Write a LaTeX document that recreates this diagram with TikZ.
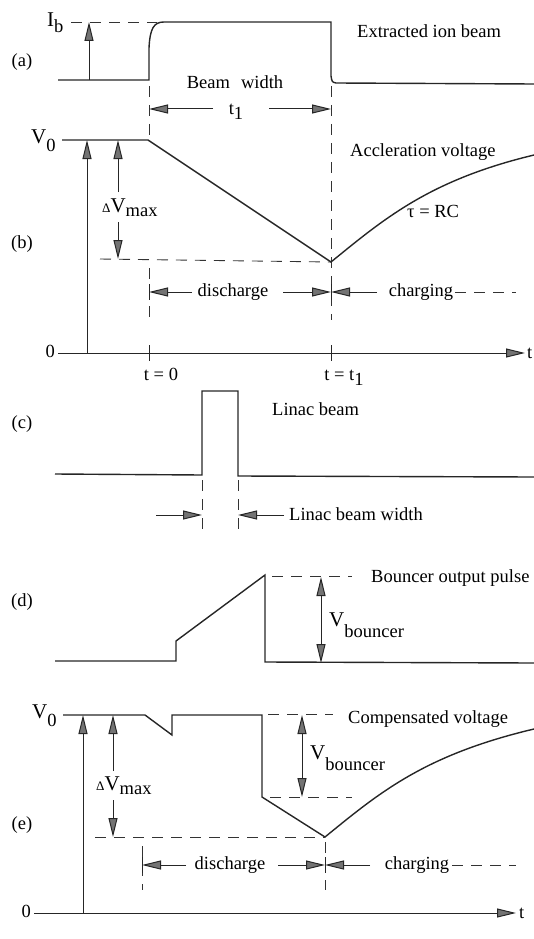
\documentclass[tikz,border=0pt]{standalone}
\usepackage{fontspec}
\setmainfont{Liberation Serif}
\usetikzlibrary{arrows.meta}
\newcommand{\lowr}[2][0.45em]{\raisebox{-#1}{#2}}
\newcommand{\smalldelta}{{\fontsize{13}{13}\selectfont Δ}}
\newcommand{\bigV}{{\fontsize{21}{22}\selectfont V}}

\begin{document}
\begin{tikzpicture}[x=1pt,y=-1pt,
  sig/.style={line width=1.4pt,black!85},
  guide/.style={line width=0.9pt,black!80,dash pattern=on 11pt off 8pt},
  dim/.style={line width=1pt,black!85},
  tick/.style={line width=1pt,black!85},
  lbl/.style={font=\fontsize{18.5}{20}\selectfont,inner sep=0pt},
  >={Triangle[length=19pt,width=9pt,fill=black!55]}]
\useasboundingbox (0,0) rectangle (534,939);

% (a) extracted ion beam
\node[lbl] (la) at (22,62) {(a)};
\coordinate (a0) at (58,80);
\coordinate (a1) at (149,80);
\coordinate (a2) at (164,22);
\coordinate (a3) at (331,22);
\coordinate (a4) at (336,83);
\coordinate (a5) at (534,84);
\draw[sig] (a0) -- (a1) -- (149,48) .. controls (150,28) and (154,22) .. (a2)
  -- (a3) -- (331,76) .. controls (332,82) .. (a4) -- (a5);
\node[lbl,anchor=base west] (ib) at (47,27) {{\fontsize{21}{22}\selectfont I}\lowr[0.28em]{b}};
\draw[guide] (71,22) -- (157,22);
\draw[dim,->] (89,80) -- (89,22);
\node[lbl] (bw) at (235,82) {Beam\hspace{0.6em}width};
\draw[guide] (149,86) -- (149,140);
\draw[guide] (331,86) -- (331,320);
\node[lbl,anchor=base] (tone) at (236,114) {t\lowr[0.3em]{1}};
\draw[dim,->] (213,109) -- (149,109);
\draw[dim,->] (269,109) -- (331,109);
\node[lbl,anchor=base west] (ext) at (357,38) {Extracted ion beam};

% (b) acceleration voltage
\node[lbl] (lb) at (22,244) {(b)};
\node[lbl,anchor=base west] (vzb) at (31,143) {\bigV\lowr{0}};
\coordinate (b0) at (62,140);
\coordinate (b1) at (148,140);
\coordinate (b2) at (331,262);
\coordinate (b3) at (534,155);
\draw[sig] (b0) -- (b1) -- (b2) .. controls (385,218) and (430,180) .. (b3);
\draw[dim,->] (87,353) -- (87,140);
\node[lbl,anchor=base west] (dvb) at (102,212) {\smalldelta\bigV\lowr[0.22em]{max}};
\draw[dim,->] (118,192) -- (118,140);
\draw[dim,->] (118,222) -- (118,259);
\draw[guide] (100,259) -- (b2);
\draw[guide] (149,268) -- (149,318);
\draw[tick] (149,284) -- (149,300);
\draw[tick] (331,284) -- (331,300);
\node[lbl] (disb) at (233,292) {discharge};
\draw[dim,->] (192,292) -- (149,292);
\draw[dim,->] (283,292) -- (331,292);
\draw[dim,->] (377,292) -- (331,292);
\node[lbl] (chgb) at (421,292) {charging};
\draw[guide] (455,292) -- (516,292);
\node[lbl,anchor=base west] (accv) at (350,157) {Accleration voltage};
\node[lbl,anchor=base west] (tau) at (407,217) {τ = RC};
\draw[dim,->] (58,353) -- (525,353);
\node[lbl,anchor=east] (zb) at (55,351) {0};
\node[lbl,anchor=west] (tb) at (527,353) {t};
\draw[tick] (149,345) -- (149,361);
\draw[tick] (331,345) -- (331,361);
\node[lbl,anchor=base] (tz) at (161,380) {t = 0};
\node[lbl,anchor=base] (tt) at (344,380) {t = t\lowr[0.3em]{1}};

% (c) linac beam
\node[lbl] (lc) at (22,424) {(c)};
\draw[sig] (55,474) -- (202,475) -- (202,391) -- (238,391) -- (238,476) -- (534,477);
\node[lbl,anchor=base west] (lin) at (272,415) {Linac beam};
\draw[guide] (202,480) -- (202,532);
\draw[guide] (238,480) -- (238,532);
\draw[dim,->] (156,515) -- (202,515);
\draw[dim,->] (284,515) -- (238,515);
\node[lbl,anchor=base west] (linw) at (289,520) {Linac beam width};

% (d) bouncer pulse
\node[lbl] (ld) at (22,602) {(d)};
\draw[sig] (55,661) -- (176,661) -- (176,641) -- (265,575) -- (265,662) -- (534,663);
\draw[guide] (272,576) -- (352,576);
\node[lbl,anchor=base west] (bop) at (371,582) {Bouncer output pulse};
\draw[dim,<->] (321,577) -- (321,663);
\node[lbl,anchor=base west] (vbd) at (329,626) {\bigV\lowr[0.6em]{bouncer}};

% (e) compensated voltage
\node[lbl] (le) at (22,825) {(e)};
\node[lbl,anchor=base west] (vze) at (32,718) {\bigV\lowr{0}};
\coordinate (e0) at (63,715);
\coordinate (e1) at (145,715);
\coordinate (e2) at (172,735);
\coordinate (e3) at (172,715);
\coordinate (e4) at (262,715);
\coordinate (e5) at (262,797);
\coordinate (e6) at (325,837);
\coordinate (e7) at (534,729);
\draw[sig] (e0) -- (e1) -- (e2) -- (e3) -- (e4) -- (e5) -- (e6)
  .. controls (379,793) and (424,755) .. (e7);
\draw[guide] (268,714) -- (333,714);
\draw[guide] (270,797) -- (352,797);
\draw[dim,<->] (302,715) -- (302,797);
\node[lbl,anchor=base west] (vbe) at (310,759) {\bigV\lowr[0.6em]{bouncer}};
\node[lbl,anchor=base west] (cmp) at (348,723) {Compensated voltage};
\draw[dim,->] (83,913) -- (83,715);
\node[lbl,anchor=base west] (dve) at (96,790) {\smalldelta\bigV\lowr[0.22em]{max}};
\draw[dim,->] (113,771) -- (113,715);
\draw[dim,->] (113,800) -- (113,837);
\draw[guide] (95,837) -- (e6);
\draw[guide] (142,846) -- (142,890);
\draw[guide] (325,842) -- (325,890);
\draw[tick] (142,857) -- (142,873);
\draw[tick] (325,857) -- (325,873);
\node[lbl] (dise) at (230,865) {discharge};
\draw[dim,->] (186,865) -- (142,865);
\draw[dim,->] (278,865) -- (325,865);
\draw[dim,->] (370,865) -- (325,865);
\node[lbl] (chge) at (417,865) {charging};
\draw[guide] (452,865) -- (516,865);
\draw[dim,->] (34,913) -- (516,913);
\node[lbl,anchor=east] (ze) at (31,911) {0};
\node[lbl,anchor=west] (te) at (519,913) {t};
\end{tikzpicture}
\end{document}
